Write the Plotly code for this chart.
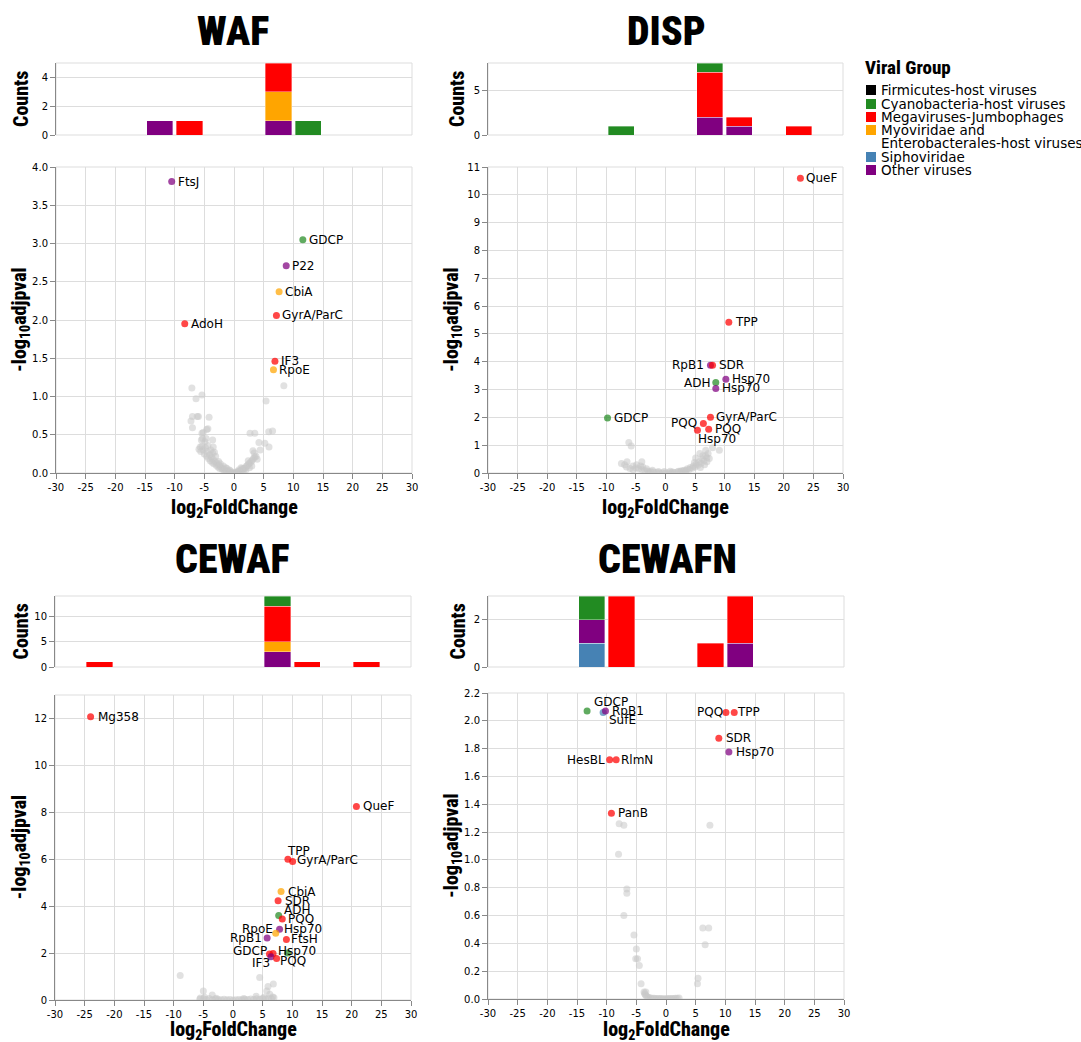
import plotly.graph_objects as go

W, H = 1081, 1042

# ---- viral groups ----
FIRM = "Firmicutes-host viruses"
CYANO = "Cyanobacteria-host viruses"
MEGA = "Megaviruses-Jumbophages"
MYO = "Myoviridae and Enterobacterales-host viruses"
SIPHO = "Siphoviridae"
OTHER = "Other viruses"

group_order = [FIRM, CYANO, MEGA, MYO, SIPHO, OTHER]
group_legend_text = ["Firmicutes-host viruses", "Cyanobacteria-host viruses",
                     "Megaviruses-Jumbophages", "Myoviridae and",
                     "Enterobacterales-host viruses", "Siphoviridae", "Other viruses"]

fold_ticks = [-30, -25, -20, -15, -10, -5, 0, 5, 10, 15, 20, 25, 30]
fold_tick_text = ["-30", "-25", "-20", "-15", "-10", "-5", "0", "5", "10", "15", "20", "25", "30"]

panel_names = ["WAF", "DISP", "CEWAF", "CEWAFN"]

# ---- WAF ----
waf_genes = ["FtsJ", "GDCP", "P22", "CbiA", "GyrA/ParC", "AdoH", "IF3", "RpoE"]
waf_lfc = [-10.5, 11.6, 8.8, 7.6, 7.15, -8.3, 6.9, 6.65]
waf_padj = [3.81, 3.05, 2.71, 2.37, 2.06, 1.95, 1.46, 1.35]
waf_group = [OTHER, CYANO, OTHER, MYO, MEGA, MEGA, MEGA, MYO]
waf_bg_lfc = [-7.1, -5.4, -6.4, 8.4, 5.4, -7.0, -6.2, -6.0, -7.25, -4.2,
              -7.0, -4.6, -4.4, -5.4, -5.2, -5.5, -5.3, -3.6, -5.7, -5.4,
              -3.5, 2.7, 3.5, 5.85, 6.5, 4.2, 5.2, 5.9, 3.2, 4.4, 3.9,
              -5.6, -5.2, -5.0, -4.8, -4.6, -4.5, -4.3, -4.1, -4.0, -3.8,
              -3.7, -3.5, -3.4, -3.2, -3.0, -2.9, -2.7, -2.5, -2.4, -2.2,
              -2.0, -1.9, -1.7, -1.5, -1.3, -1.1, -0.9, -0.7, -0.5, -0.3,
              -0.1, 0.1, 0.3, 0.5, 0.7, 0.9, 1.1, 1.3, 1.5, 1.7,
              1.9, 2.1, 2.3, 2.5, 2.7, 2.9, 3.1, 3.3, 3.5, 3.7,
              2.0, 1.6, 2.6, 3.0, -2.6, -3.6, -1.8, -4.4, -4.9, -0.8,
              0.8, -1.2, 1.2, -3.9, -3.1, -2.3, -1.4, -0.6, 0.6, 1.4,
              2.4, 3.4, -5.9, -4.7, -3.3]
waf_bg_padj = [1.11, 1.02, 0.97, 1.14, 0.94, 0.74, 0.74, 0.74, 0.68, 0.73,
               0.59, 0.57, 0.58, 0.52, 0.53, 0.43, 0.45, 0.43, 0.34, 0.35,
               0.34, 0.52, 0.52, 0.54, 0.55, 0.40, 0.39, 0.34, 0.29, 0.30, 0.18,
               0.28, 0.30, 0.25, 0.33, 0.22, 0.28, 0.19, 0.24, 0.16, 0.21,
               0.14, 0.18, 0.12, 0.15, 0.10, 0.13, 0.08, 0.10, 0.06, 0.08,
               0.05, 0.06, 0.035, 0.04, 0.025, 0.02, 0.015, 0.01, 0.005, 0.003,
               0.001, 0.001, 0.004, 0.008, 0.012, 0.02, 0.03, 0.035, 0.05, 0.06,
               0.07, 0.09, 0.10, 0.12, 0.13, 0.15, 0.17, 0.19, 0.21, 0.22,
               0.04, 0.03, 0.07, 0.09, 0.15, 0.26, 0.09, 0.36, 0.41, 0.04,
               0.04, 0.06, 0.07, 0.30, 0.22, 0.12, 0.07, 0.03, 0.02, 0.06,
               0.16, 0.26, 0.31, 0.45, 0.27]

# ---- DISP ----
disp_genes = ["QueF", "TPP", "RpB1", "SDR", "ADH", "Hsp70", "Hsp70", "GDCP",
              "GyrA/ParC", "PQQ", "PQQ", "Hsp70"]
disp_lfc = [22.8, 10.7, 7.6, 7.95, 8.5, 10.2, 8.5, -9.8, 7.6, 6.4, 7.3, 5.4]
disp_padj = [10.6, 5.42, 3.87, 3.87, 3.25, 3.37, 3.04, 1.98, 2.0, 1.78, 1.57, 1.54]
disp_group = [MEGA, MEGA, OTHER, MEGA, CYANO, OTHER, OTHER, CYANO, MEGA, MEGA, MEGA, MEGA]
disp_bg_lfc = [-6.2, -5.8, 7.95, 9.1, 6.8, 5.1, 5.8, -7.45, -6.5, -4.9,
               -4.0, -3.85, -6.9, -5.5, -5.0, -4.5, -4.0, -3.5, -3.0, -2.5,
               -2.0, -1.5, -1.0, -0.5, 0.0, 0.5, 1.0, 1.5, 2.0, 2.5,
               3.0, 3.5, 4.0, 4.5, 5.0, 5.5, 6.0, 6.5, 7.0, 7.2,
               6.8, 6.2, 5.7, 5.2, 4.7, 4.2, 3.7, 3.2, 2.7, 6.6,
               7.0, 5.9, -4.2, -3.2, -2.2, -5.5, -6.0, -1.2, 1.2, 2.2,
               7.4, 6.3, 4.9, -6.6, -2.8, 3.4, -0.2, 0.8]
disp_bg_padj = [1.10, 0.97, 0.91, 0.82, 0.82, 0.54, 0.70, 0.34, 0.40, 0.30,
                0.40, 0.22, 0.30, 0.25, 0.18, 0.15, 0.12, 0.09, 0.07, 0.05,
                0.035, 0.02, 0.012, 0.005, 0.002, 0.005, 0.01, 0.02, 0.035, 0.05,
                0.07, 0.10, 0.13, 0.17, 0.22, 0.28, 0.35, 0.43, 0.55, 0.70,
                0.62, 0.50, 0.40, 0.32, 0.25, 0.20, 0.15, 0.10, 0.08, 0.30,
                0.40, 0.20, 0.25, 0.15, 0.10, 0.12, 0.16, 0.05, 0.04, 0.06,
                0.52, 0.62, 0.38, 0.22, 0.03, 0.04, 0.05, 0.06]

# ---- CEWAF ----
cewaf_genes = ["Mg358", "QueF", "TPP", "GyrA/ParC", "CbiA", "SDR", "ADH", "PQQ",
               "Hsp70", "RpoE", "RpB1", "FtsH", "GDCP", "Hsp70", "IF3", "PQQ", ""]
cewaf_lfc = [-24.0, 20.8, 9.25, 10.05, 8.1, 7.6, 7.7, 8.3, 7.85, 7.2, 5.75, 9.0,
             6.15, 6.75, 6.4, 7.35, 9.2]
cewaf_padj = [12.07, 8.25, 6.0, 5.9, 4.62, 4.23, 3.6, 3.45, 3.02, 2.85, 2.64, 2.58,
              1.96, 1.98, 1.84, 1.77, 2.0]
cewaf_group = [MEGA, MEGA, MEGA, MEGA, MYO, MEGA, CYANO, MEGA, OTHER, MYO, OTHER, MEGA,
               MEGA, MEGA, OTHER, MEGA, CYANO]
cewaf_bg_lfc = [-8.9, 4.5, 6.8, 5.9, 5.7, -5.0, -3.5, 3.9, 6.7, 6.2,
                -5.5, -5.6, -5.0, -4.5, -4.0, -3.5, -3.0, -2.5, -2.0, -1.5,
                -1.0, -0.5, 0.0, 0.5, 1.0, 1.5, 2.0, 2.5, 3.0, 3.5,
                4.0, 4.5, 5.0, 5.5, 6.0, 6.5, 6.9, -4.8, -2.8, 1.8, 5.2]
cewaf_bg_padj = [1.04, 0.96, 0.68, 0.58, 0.38, 0.38, 0.21, 0.16, 0.13, 0.25,
                 0.08, 0.03, 0.05, 0.02, 0.06, 0.01, 0.04, 0.02, 0.01, 0.03,
                 0.01, 0.02, 0.0, 0.01, 0.02, 0.01, 0.03, 0.02, 0.04, 0.02,
                 0.05, 0.03, 0.06, 0.04, 0.08, 0.05, 0.10, 0.12, 0.07, 0.06, 0.12]

# ---- CEWAFN ----
cewafn_genes = ["GDCP", "SufE", "RpB1", "HesBL", "RlmN", "PanB", "PQQ", "TPP", "SDR", "Hsp70"]
cewafn_lfc = [-13.3, -10.6, -10.2, -9.5, -8.4, -9.2, 10.1, 11.5, 8.9, 10.6]
cewafn_padj = [2.07, 2.06, 2.07, 1.72, 1.72, 1.335, 2.06, 2.06, 1.875, 1.775]
cewafn_group = [CYANO, SIPHO, OTHER, MEGA, MEGA, MEGA, MEGA, MEGA, MEGA, OTHER]
cewafn_bg_lfc = [-7.9, -7.1, 7.4, -8.0, -6.6, -6.6, -7.1, -5.4, -5.0, -5.1,
                 -4.8, -4.5, -4.2, 6.2, 7.2, 6.6, 5.4, 5.3, -3.7, -3.6,
                 -3.5, -3.4, -3.3, -3.1, -2.9, -2.6, -2.3, -2.0, -1.7, -1.4,
                 -1.1, -0.8, -0.5, -0.2, 0.1, 0.4, 0.7, 1.0, 1.3, 1.6, 1.9, 2.2]
cewafn_bg_padj = [1.26, 1.25, 1.25, 1.04, 0.79, 0.76, 0.60, 0.46, 0.36, 0.29,
                  0.29, 0.24, 0.11, 0.51, 0.51, 0.39, 0.15, 0.11, 0.05, 0.04,
                  0.03, 0.05, 0.02, 0.015, 0.01, 0.008, 0.006, 0.005, 0.004, 0.004,
                  0.003, 0.003, 0.002, 0.002, 0.002, 0.003, 0.003, 0.004, 0.004, 0.005,
                  0.006, 0.007]

# ---------------- styling ----------------
BAR_COLORS = {FIRM: "#000000", CYANO: "#228b22", MEGA: "#ff0000",
              MYO: "#ffa500", SIPHO: "#4682b4", OTHER: "#800080"}
STACK_ORDER = [SIPHO, OTHER, MYO, MEGA, CYANO, FIRM]
COND = ("Roboto Condensed, Noto Sans ExtraCondensed, Noto Sans Condensed, "
        "Liberation Sans Narrow, Arial Narrow, Roboto, sans-serif")
SANS = "DejaVu Sans, Verdana, sans-serif"
GRID = "#dddddd"
AXIS = "#888888"

# label placement: (side, dx px, dy px)
R = ("r", 6, 0)
L = ("l", -6, 0)
label_place = [
    [R, R, R, R, R, R, R, R],
    [R, R, L, R, L, R, R, R, R, L, R, ("r", 1, -9)],
    [("r", 7, 0), ("r", 7, 0), ("r", -1, 8), ("r", 4, 2), ("r", 7, 0), ("r", 7, 0),
     ("r", 5, 6), ("r", 6, 0), ("r", 4, 0), ("l", -3, 4), ("l", -5, 0), ("r", 5, 0),
     ("l", -2, 3), ("r", 5, 3), ("l", -1, -6), ("r", 3, -3), None],
    [("r", 7, 9), ("r", 6, -8), ("r", 7, 0), ("l", -5, 0), ("r", 5, 0), ("r", 7, 0),
     ("l", -3, 0), ("r", 3, 0), ("r", 7, 0), ("r", 7, 0)],
]

# pixel frames: x0, x1, hist top/bottom, scatter top/bottom, title centre, x-title centre
frames = [
    dict(x0=56, x1=412, ht=63, hb=135, st=167, sb=473, tx=233, ty=31, xt=508),
    dict(x0=488, x1=843, ht=63, hb=135, st=167, sb=473, tx=666, ty=31, xt=508),
    dict(x0=55, x1=411, ht=596, hb=667, st=695, sb=1000, tx=232, ty=559, xt=1030),
    dict(x0=488, x1=844, ht=596, hb=667, st=693, sb=999, tx=667, ty=559, xt=1030),
]
hist_y = [dict(range=[0, 5], dtick=2), dict(range=[0, 8], dtick=5),
          dict(range=[0, 14], dtick=5), dict(range=[0, 3], dtick=2)]
scat_y = [dict(range=[0, 4], dtick=0.5, tickformat=".1f"),
          dict(range=[0, 11], dtick=1, tickformat="d"),
          dict(range=[0, 13], dtick=2, tickformat="d"),
          dict(range=[0, 2.2], dtick=0.2, tickformat=".1f")]

panels = [
    dict(genes=waf_genes, lfc=waf_lfc, padj=waf_padj, group=waf_group,
         bgx=waf_bg_lfc, bgy=waf_bg_padj),
    dict(genes=disp_genes, lfc=disp_lfc, padj=disp_padj, group=disp_group,
         bgx=disp_bg_lfc, bgy=disp_bg_padj),
    dict(genes=cewaf_genes, lfc=cewaf_lfc, padj=cewaf_padj, group=cewaf_group,
         bgx=cewaf_bg_lfc, bgy=cewaf_bg_padj),
    dict(genes=cewafn_genes, lfc=cewafn_lfc, padj=cewafn_padj, group=cewafn_group,
         bgx=cewafn_bg_lfc, bgy=cewafn_bg_padj),
]


def px_x(v):
    return v / W


def px_y(v):
    return 1 - v / H


def rgba(hexcol, a):
    h = hexcol.lstrip("#")
    r, g, b = int(h[0:2], 16), int(h[2:4], 16), int(h[4:6], 16)
    return f"rgba({r},{g},{b},{a})"


fig = go.Figure()
layout = {}
annotations = []
shapes = []

tickfont = dict(family=SANS, size=10, color="#000")
title_font = dict(family=COND, size=20, color="#000", weight=800)

for i, (p, f) in enumerate(zip(panels, frames)):
    hn, sn = 2 * i + 1, 2 * i + 2
    hx = "x" if hn == 1 else f"x{hn}"
    hy = "y" if hn == 1 else f"y{hn}"
    sx, sy = f"x{sn}", f"y{sn}"
    hxk = "xaxis" if hn == 1 else f"xaxis{hn}"
    hyk = "yaxis" if hn == 1 else f"yaxis{hn}"
    sxk, syk = f"xaxis{sn}", f"yaxis{sn}"

    # stacked histogram of significant genes per viral group
    for g in STACK_ORDER:
        xs = [v for v, gg in zip(p["lfc"], p["group"]) if gg == g]
        if not xs:
            continue
        fig.add_trace(go.Histogram(
            x=xs, xbins=dict(start=-30, end=30, size=5), autobinx=False,
            marker=dict(color=BAR_COLORS[g], line=dict(color="rgba(255,255,255,0.6)", width=0.6)),
            xaxis=hx, yaxis=hy, showlegend=False, hoverinfo="skip"))

    # non-significant background genes
    fig.add_trace(go.Scatter(
        x=p["bgx"], y=p["bgy"], mode="markers",
        marker=dict(size=7, color="rgba(200,200,200,0.55)", line=dict(width=0)),
        xaxis=sx, yaxis=sy, showlegend=False, hoverinfo="skip"))

    # significant genes coloured by viral group
    fig.add_trace(go.Scatter(
        x=p["lfc"], y=p["padj"], mode="markers", text=p["genes"],
        marker=dict(size=7, color=[rgba(BAR_COLORS[g], 0.72) for g in p["group"]],
                    line=dict(width=0)),
        xaxis=sx, yaxis=sy, showlegend=False, hoverinfo="text"))

    for gene, x, y, place in zip(p["genes"], p["lfc"], p["padj"], label_place[i]):
        if place is None or not gene:
            continue
        side, dx, dy = place
        annotations.append(dict(
            x=x, y=y, xref=sx, yref=sy, text=gene, showarrow=False,
            xanchor="left" if side == "r" else "right", yanchor="middle",
            xshift=dx, yshift=dy, borderpad=0, borderwidth=0,
            font=dict(family=SANS, size=12, color="#000")))

    xd = [px_x(f["x0"]), px_x(f["x1"])]
    common = dict(automargin=False, zeroline=False, tickfont=tickfont)
    layout[hxk] = dict(domain=xd, anchor=hy, range=[-30, 30], showticklabels=False,
                       showgrid=False, showline=False, ticks="", **common)
    layout[hyk] = dict(domain=[px_y(f["hb"]), px_y(f["ht"])], anchor=hx,
                       range=hist_y[i]["range"], dtick=hist_y[i]["dtick"], tick0=0,
                       showgrid=True, gridcolor=GRID, showline=True, linecolor=AXIS,
                       ticks="outside", ticklen=5, tickcolor=AXIS, **common)
    layout[sxk] = dict(domain=xd, anchor=sy, range=[-30, 30], tickvals=fold_ticks,
                       ticktext=fold_tick_text, showgrid=True, gridcolor=GRID,
                       showline=True, linecolor=AXIS, ticks="outside",
                       ticklen=5, tickcolor=AXIS, **common)
    layout[syk] = dict(domain=[px_y(f["sb"]), px_y(f["st"])], anchor=sx,
                       range=scat_y[i]["range"], dtick=scat_y[i]["dtick"], tick0=0,
                       tickformat=scat_y[i]["tickformat"], showgrid=True,
                       gridcolor=GRID, showline=True, linecolor=AXIS,
                       ticks="outside", ticklen=5, tickcolor=AXIS, **common)

    for xr, yr in ((hx, hy), (sx, sy)):
        shapes.append(dict(type="rect", xref=f"{xr} domain", yref=f"{yr} domain",
                           x0=0, x1=1, y0=0, y1=1, line=dict(color=GRID, width=1),
                           layer="below"))

    # panel title and axis titles
    annotations.append(dict(x=px_x(f["tx"]), y=px_y(f["ty"]), xref="paper", yref="paper",
                            text=panel_names[i], showarrow=False,
                            xanchor="center", yanchor="middle",
                            font=dict(family=COND, size=40, color="#000", weight=900)))
    ax_x = f["x0"] - 35 if i % 2 == 0 else f["x0"] - 31
    annotations.append(dict(x=px_x(ax_x), y=px_y((f["ht"] + f["hb"]) / 2),
                            xref="paper", yref="paper", text="Counts",
                            showarrow=False, textangle=-90, xanchor="center",
                            yanchor="middle", font=title_font))
    annotations.append(dict(x=px_x(f["x0"] - 36), y=px_y((f["st"] + f["sb"]) / 2),
                            xref="paper", yref="paper",
                            text="-log<sub>10</sub>adjpval",
                            showarrow=False, textangle=-90, xanchor="center",
                            yanchor="middle", font=title_font))
    annotations.append(dict(x=px_x((f["x0"] + f["x1"]) / 2), y=px_y(f["xt"]),
                            xref="paper", yref="paper",
                            text="log<sub>2</sub>FoldChange",
                            showarrow=False, xanchor="center", yanchor="middle",
                            font=title_font))

# ---- legend ----
annotations.append(dict(x=px_x(863), y=px_y(67), xref="paper", yref="paper",
                        text="Viral Group", showarrow=False, xanchor="left",
                        yanchor="middle", font=dict(family=COND, size=19, color="#000", weight=800)))
row_y = [90, 104, 117, 130, 143, 157, 170]
swatch_rows = [0, 1, 2, 3, 5, 6]
for g, r in zip(group_order, swatch_rows):
    yc = row_y[r]
    shapes.append(dict(type="rect", xref="paper", yref="paper",
                       x0=px_x(866), x1=px_x(876), y0=px_y(yc + 5), y1=px_y(yc - 5),
                       fillcolor=BAR_COLORS[g], line=dict(width=0)))
for txt, yc in zip(group_legend_text, row_y):
    annotations.append(dict(x=px_x(880), y=px_y(yc), xref="paper", yref="paper",
                            text=txt, showarrow=False, xanchor="left", yanchor="middle",
                            borderpad=0, font=dict(family=SANS, size=13.5, color="#000")))

fig.update_layout(
    template="none",
    width=W, height=H, margin=dict(l=0, r=0, t=0, b=0, autoexpand=False),
    paper_bgcolor="white", plot_bgcolor="white",
    barmode="stack", bargap=0.12, showlegend=False, hovermode="closest",
    annotations=annotations, shapes=shapes, **layout)

fig.write_html("out.html")
